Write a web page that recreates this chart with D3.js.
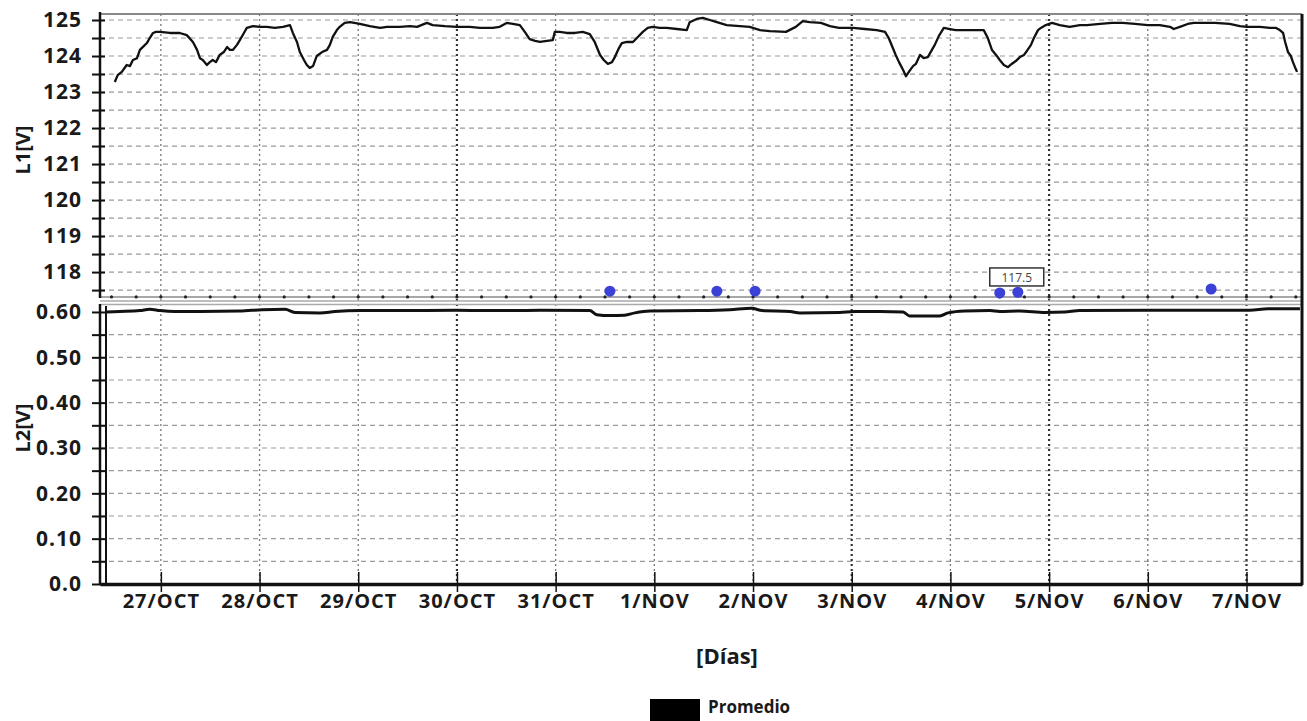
<!DOCTYPE html>
<html>
<head>
<meta charset="utf-8">
<script src="https://cdn.jsdelivr.net/npm/d3@7"></script>
<style>
  body { margin: 0; background: #fff; }
  text { font-family: "Open Sans", sans-serif; font-weight: 700; fill: #1a1a1a; }
</style>
</head>
<body>
<svg id="chart" width="1307" height="721"></svg>
<script>
// horas desde 27/OCT 00:00
const horasL1 = [-11.2,-10.5,-9.5,-8.3,-7.5,-6.8,-5.8,-5.1,-4.1,-3.4,-2.7,-1.9,-1.2,-0.2,2.2,4.6,6.3,7.8,8.8,9.5,
  10.2,11.2,11.9,12.6,13.4,14.3,15.3,16.1,16.8,17.5,18.5,19.2,20.2,20.9,22.4,24.1,25.8,27.7,29.7,31.4,
  32.1,33.1,33.8,34.8,35.5,36.2,37.0,37.9,39.2,40.4,41.1,41.8,42.8,43.5,44.7,46.0,48.4,50.8,53.3,55.0,
  58.1,60.6,62.3,64.7,66.1,69.1,72.0,75.1,77.6,80.7,82.4,84.1,85.6,87.3,88.5,89.7,91.0,92.2,93.9,95.3,
  95.8,97.0,98.7,100.7,102.6,104.3,105.5,106.8,107.7,108.7,109.7,110.4,111.4,112.1,113.3,114.8,116.0,117.2,118.4,119.6,
  121.3,123.0,125.5,127.9,128.6,130.3,131.8,133.5,135.2,137.6,140.8,143.2,145.7,148.1,152.0,154.4,156.1,157.8,160.5,162.7,
  164.9,168.3,171.2,174.1,176.1,177.0,177.8,178.7,179.5,180.5,181.2,181.9,182.9,183.6,184.6,185.5,186.5,187.5,188.2,189.2,
  190.4,191.9,193.3,196.7,200.1,201.1,202.1,203.1,204.0,205.0,206.0,206.9,207.9,208.9,209.9,210.6,211.6,212.3,213.3,214.0,
  215.2,216.7,218.6,221.0,223.5,225.2,228.4,231.3,233.9,236.9,240.0,242.9,245.4,246.3,247.8,249.7,251.2,253.9,256.3,259.9,
  262.4,264.1,267.3,269.7,271.2,272.1,272.9,273.4,274.1,274.8,275.3,275.8,276.3]
const voltL1 = [123.28,123.47,123.56,123.75,123.72,123.89,123.94,124.17,124.28,124.36,124.50,124.64,124.67,124.67,124.64,124.64,124.58,124.39,124.17,123.94,
  123.89,123.75,123.83,123.89,123.83,124.03,124.11,124.25,124.17,124.17,124.31,124.44,124.64,124.78,124.83,124.81,124.81,124.78,124.81,124.86,
  124.64,124.39,124.11,123.89,123.75,123.67,123.72,124.00,124.11,124.17,124.31,124.53,124.72,124.81,124.92,124.94,124.89,124.83,124.78,124.81,
  124.81,124.83,124.81,124.92,124.86,124.83,124.81,124.81,124.78,124.78,124.81,124.92,124.89,124.86,124.67,124.47,124.42,124.39,124.42,124.44,
  124.67,124.67,124.64,124.64,124.67,124.61,124.39,124.03,123.89,123.78,123.83,123.97,124.22,124.36,124.39,124.39,124.53,124.67,124.78,124.81,
  124.78,124.78,124.75,124.72,124.94,125.03,125.06,125.00,124.94,124.86,124.83,124.81,124.72,124.69,124.67,124.81,124.97,124.94,124.92,124.83,
  124.78,124.78,124.75,124.72,124.67,124.50,124.28,124.03,123.83,123.61,123.44,123.56,123.72,123.78,124.03,123.94,123.97,124.17,124.31,124.56,
  124.78,124.75,124.72,124.72,124.72,124.50,124.17,124.03,123.89,123.75,123.69,123.78,123.86,123.97,124.03,124.14,124.31,124.50,124.72,124.78,
  124.86,124.92,124.86,124.81,124.86,124.86,124.89,124.92,124.92,124.89,124.86,124.86,124.81,124.75,124.81,124.89,124.92,124.92,124.92,124.89,
  124.83,124.81,124.81,124.78,124.78,124.72,124.64,124.39,124.11,124.00,123.83,123.69,123.56]

const horasL2 = [-13.1,-10.0,-5.1,-2.7,-0.2,3.4,9.5,19.2,24.6,30.2,32.6,38.7,42.3,48.4,58.1,72.0,82.4,92.2,104.3,106.0,
  109.2,112.8,115.3,118.9,131.1,138.4,143.7,146.2,153.0,155.4,165.1,168.8,174.9,180.5,182.1,189.4,191.4,195.5,201.6,204.0,
  208.9,215.0,219.8,223.5,240.5,252.7,264.8,269.2,277.0]
const voltL2 = [0.600,0.601,0.603,0.606,0.603,0.601,0.601,0.602,0.605,0.606,0.599,0.598,0.601,0.603,0.603,0.604,0.603,0.604,0.603,0.594,
  0.592,0.593,0.598,0.602,0.603,0.605,0.608,0.603,0.601,0.598,0.599,0.601,0.601,0.600,0.591,0.591,0.598,0.602,0.603,0.601,
  0.602,0.599,0.600,0.603,0.604,0.604,0.604,0.607,0.607]

// eventos (puntos azules)
const horasEventos = [109.2, 135.2, 144.5, 204.0, 208.4, 255.4]
const voltEventos = [117.47, 117.47, 117.47, 117.42, 117.44, 117.53]
const etiquetaEvento = "117.5"

// serie minima (linea gris con marcas)
const horasMin = [-12,-6,0,6,12,18,24,30,36,42,48,54,60,66,72,78,84,90,96,102,108,114,120,126,132,138,144,150,
  156,162,168,174,180,186,192,198,204,210,216,222,228,234,240,246,252,258,264,270,276]
const voltMin = 117.31

const ticksL1 = [118,119,120,121,122,123,124,125]
const gridL1 = [117.5,118,118.5,119,119.5,120,120.5,121,121.5,122,122.5,123,123.5,124,124.5,125]
const ticksL2 = [0,0.1,0.2,0.3,0.4,0.5,0.6]
const etiquetasL2 = ["0.0","0.10","0.20","0.30","0.40","0.50","0.60"]
const gridL2 = [0.05,0.1,0.15,0.2,0.25,0.3,0.35,0.4,0.45,0.5,0.55]

const diasHoras = [0,24,48,72,96,120,144,168,192,216,240,264]
const etiquetasDias = ["27/OCT","28/OCT","29/OCT","30/OCT","31/OCT","1/NOV","2/NOV","3/NOV","4/NOV","5/NOV","6/NOV","7/NOV"]

const base = new Date(2023, 9, 27)
const fecha = h => new Date(base.getTime() + h * 3600e3)

const left = 100, right = 1302
const x = d3.scaleTime().domain([fecha(-14.8), fecha(277.5)]).range([left, right])
const y1 = d3.scaleLinear().domain([117.28, 125.167]).range([298, 14])
const y2 = d3.scaleLinear().domain([0, 0.622]).range([584, 302])

const svg = d3.select('#chart')

//rejilla horizontal
svg.append('g').selectAll('line')
  .data(gridL1)
  .join('line')
  .attr('x1', left).attr('x2', right)
  .attr('y1', d => y1(d)).attr('y2', d => y1(d))
  .attr('stroke', '#9a9a9a').attr('stroke-width', 1.2)
  .attr('stroke-dasharray', '5,4')

svg.append('g').selectAll('line')
  .data(gridL2)
  .join('line')
  .attr('x1', left).attr('x2', right)
  .attr('y1', d => y2(d)).attr('y2', d => y2(d))
  .attr('stroke', '#9a9a9a').attr('stroke-width', 1.2)
  .attr('stroke-dasharray', '5,4')

//rejilla vertical (dias)
const oscuros = new Set([3, 7, 9, 11])
svg.append('g').selectAll('line')
  .data(diasHoras)
  .join('line')
  .attr('x1', d => x(fecha(d))).attr('x2', d => x(fecha(d)))
  .attr('y1', 14).attr('y2', 584)
  .attr('stroke', (d, i) => oscuros.has(i) ? '#333' : '#777')
  .attr('stroke-width', (d, i) => oscuros.has(i) ? 2.2 : 1.3)
  .attr('stroke-dasharray', '2,3')

//borde superior
svg.append('line')
  .attr('x1', left).attr('x2', right).attr('y1', 14).attr('y2', 14)
  .attr('stroke', '#888').attr('stroke-width', 2)

//separacion entre paneles
svg.append('line')
  .attr('x1', left).attr('x2', right).attr('y1', y1(voltMin)).attr('y2', y1(voltMin))
  .attr('stroke', '#8a8a8a').attr('stroke-width', 1.5)
svg.append('g').selectAll('circle')
  .data(horasMin)
  .join('circle')
  .attr('cx', d => x(fecha(d)))
  .attr('cy', y1(voltMin))
  .attr('r', 1.6)
  .attr('fill', '#222')
svg.append('line')
  .attr('x1', left).attr('x2', right).attr('y1', 301).attr('y2', 301)
  .attr('stroke', '#aaa').attr('stroke-width', 1.5)
svg.append('line')
  .attr('x1', left).attr('x2', right).attr('y1', 304.5).attr('y2', 304.5)
  .attr('stroke', '#aaa').attr('stroke-width', 1.5)

//lineas de datos
const lineaL1 = d3.line()
  .x((d, i) => x(fecha(horasL1[i])))
  .y(d => y1(d))
svg.append('path')
  .attr('d', lineaL1(voltL1))
  .attr('fill', 'none').attr('stroke', '#111').attr('stroke-width', 2.3)
  .attr('stroke-linejoin', 'round')

const lineaL2 = d3.line()
  .x((d, i) => x(fecha(horasL2[i])))
  .y(d => y2(d))
  .curve(d3.curveMonotoneX)
svg.append('path')
  .attr('d', lineaL2(voltL2))
  .attr('fill', 'none').attr('stroke', '#111').attr('stroke-width', 3)

//eventos
svg.append('g').selectAll('circle')
  .data(voltEventos)
  .join('circle')
  .attr('cx', (d, i) => x(fecha(horasEventos[i])))
  .attr('cy', d => y1(d))
  .attr('r', 5.5)
  .attr('fill', '#3b40d6')

const ev = svg.append('g')
  .attr('transform', `translate(${x(fecha(horasEventos[3])) - 10}, ${y1(voltEventos[3]) - 25})`)
ev.append('rect')
  .attr('width', 54).attr('height', 18)
  .attr('fill', '#fff').attr('stroke', '#333').attr('stroke-width', 1.5)
ev.append('text')
  .text(etiquetaEvento)
  .attr('x', 27).attr('y', 14)
  .attr('text-anchor', 'middle')
  .style('font-weight', 400).style('font-size', '12px').style('fill', '#444')

//eje y superior
const ejeY1 = d3.axisLeft(y1)
  .tickValues(gridL1)
  .tickSize(8)
  .tickPadding(10)
  .tickFormat(d => ticksL1.includes(d) ? d : '')
const gY1 = svg.append('g')
  .attr('transform', `translate(${left}, 0)`)
  .call(ejeY1)
gY1.select('.domain').remove()
gY1.selectAll('.tick line').attr('x1', 5).attr('stroke', '#111').attr('stroke-width', 2)
gY1.selectAll('.tick text').style('font-size', '21px').style('letter-spacing', '1px')
svg.append('line')
  .attr('x1', left).attr('x2', left).attr('y1', 12).attr('y2', 298)
  .attr('stroke', '#111').attr('stroke-width', 2.5)

//eje y inferior
const ejeY2 = d3.axisLeft(y2)
  .tickValues([0].concat(gridL2, [0.6]))
  .tickSize(8)
  .tickPadding(10)
  .tickFormat(d => {
    const i = ticksL2.findIndex(t => Math.abs(t - d) < 1e-6)
    return i >= 0 ? etiquetasL2[i] : ''
  })
const gY2 = svg.append('g')
  .attr('transform', `translate(${left}, 0)`)
  .call(ejeY2)
gY2.select('.domain').remove()
gY2.selectAll('.tick line').attr('x1', 5).attr('stroke', '#111').attr('stroke-width', 2)
gY2.selectAll('.tick text').style('font-size', '21px').style('letter-spacing', '1px')
svg.append('line')
  .attr('x1', left).attr('x2', left).attr('y1', 304).attr('y2', 585)
  .attr('stroke', '#111').attr('stroke-width', 2.5)
svg.append('line')
  .attr('x1', left + 6).attr('x2', left + 6).attr('y1', 306).attr('y2', 585)
  .attr('stroke', '#111').attr('stroke-width', 2)

//borde derecho
svg.append('line')
  .attr('x1', right).attr('x2', right).attr('y1', 14).attr('y2', 585)
  .attr('stroke', '#111').attr('stroke-width', 3)

//eje x
const ejeX = d3.axisBottom(x)
  .tickValues(diasHoras.map(fecha))
  .tickSize(0)
  .tickFormat((d, i) => etiquetasDias[i])
const gX = svg.append('g')
  .attr('transform', `translate(0, 584)`)
  .call(ejeX)
gX.select('.domain').attr('stroke', '#111').attr('stroke-width', 3.5)
gX.selectAll('.tick line').attr('y1', -12).attr('y2', 8).attr('stroke', '#111').attr('stroke-width', 1.5)
gX.selectAll('.tick text')
  .attr('y', 24).attr('dy', 0)
  .style('font-size', '20px').style('letter-spacing', '1px')

//titulos
svg.append('text')
  .text('L1[V]')
  .attr('transform', 'rotate(-90)')
  .attr('x', -150).attr('y', 30)
  .attr('text-anchor', 'middle')
  .style('font-size', '20px')

svg.append('text')
  .text('L2[V]')
  .attr('transform', 'rotate(-90)')
  .attr('x', -428).attr('y', 30)
  .attr('text-anchor', 'middle')
  .style('font-size', '20px')

svg.append('text')
  .text('[Días]')
  .attr('x', 727).attr('y', 664)
  .attr('text-anchor', 'middle')
  .style('font-size', '22px')

//leyenda
svg.append('rect')
  .attr('x', 650).attr('y', 699).attr('width', 50).attr('height', 22)
  .attr('fill', '#000')
svg.append('text')
  .text('Promedio')
  .attr('x', 708).attr('y', 713)
  .style('font-size', '17px')
</script>
</body>
</html>
